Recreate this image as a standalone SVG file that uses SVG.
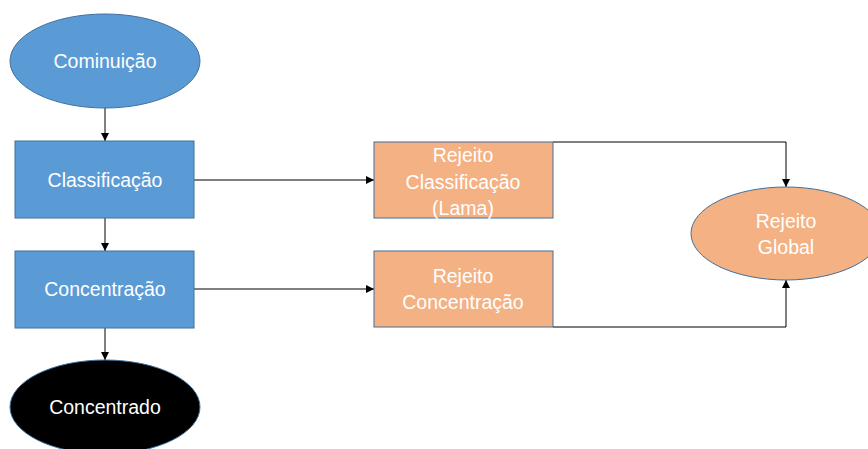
<svg xmlns="http://www.w3.org/2000/svg" width="868" height="449" viewBox="0 0 868 449">
<style>
.blue{fill:#5B9BD5;stroke:#41719C;stroke-width:1}
.orange{fill:#F4B183;stroke:#41719C;stroke-width:1}
.black{fill:#000;stroke:#41719C;stroke-width:1}
.t{font-family:"Liberation Sans",Arial,sans-serif;font-size:19.5px;fill:#fff;text-anchor:middle}
.c{fill:none;stroke:#000;stroke-width:1}
</style>
<defs>
<marker id="ah" viewBox="0 0 10 10" refX="10" refY="5" markerWidth="8" markerHeight="8" markerUnits="userSpaceOnUse" orient="auto">
<path d="M0,0 L10,5 L0,10 z" fill="#000"/>
</marker>
</defs>
<rect width="868" height="449" fill="#fff"/>
<g id="connectors">
<line class="c" x1="105" y1="108" x2="105" y2="141" marker-end="url(#ah)"/>
<line class="c" x1="105" y1="218" x2="105" y2="251" marker-end="url(#ah)"/>
<line class="c" x1="105" y1="328" x2="105" y2="360" marker-end="url(#ah)"/>
<line class="c" x1="194" y1="180" x2="374" y2="180" marker-end="url(#ah)"/>
<line class="c" x1="194" y1="289" x2="374" y2="289" marker-end="url(#ah)"/>
<polyline class="c" points="553,142 786,142 786,187" marker-end="url(#ah)"/>
<polyline class="c" points="553,327 786,327 786,280" marker-end="url(#ah)"/>
</g>
<g id="cominuicao">
<ellipse class="blue" cx="105" cy="61" rx="95" ry="47"/>
<text class="t" x="105" y="68">Cominuição</text>
</g>
<g id="classificacao">
<rect class="blue" x="15" y="141" width="179" height="77"/>
<text class="t" x="105" y="187">Classificação</text>
</g>
<g id="concentracao">
<rect class="blue" x="15" y="251" width="179" height="77"/>
<text class="t" x="105" y="296">Concentração</text>
</g>
<g id="concentrado">
<ellipse class="black" cx="105" cy="407" rx="95" ry="47"/>
<text class="t" x="105" y="414">Concentrado</text>
</g>
<g id="rejeito-classificacao">
<rect class="orange" x="374" y="142" width="179" height="76"/>
<text class="t" x="463" y="162">Rejeito</text>
<text class="t" x="463" y="189">Classificação</text>
<text class="t" x="463" y="215">(Lama)</text>
</g>
<g id="rejeito-concentracao">
<rect class="orange" x="374" y="251" width="179" height="76"/>
<text class="t" x="463" y="283">Rejeito</text>
<text class="t" x="463" y="309">Concentração</text>
</g>
<g id="rejeito-global">
<ellipse class="orange" cx="786" cy="233.5" rx="95" ry="46.5"/>
<text class="t" x="786" y="228">Rejeito</text>
<text class="t" x="786" y="254">Global</text>
</g>
</svg>
